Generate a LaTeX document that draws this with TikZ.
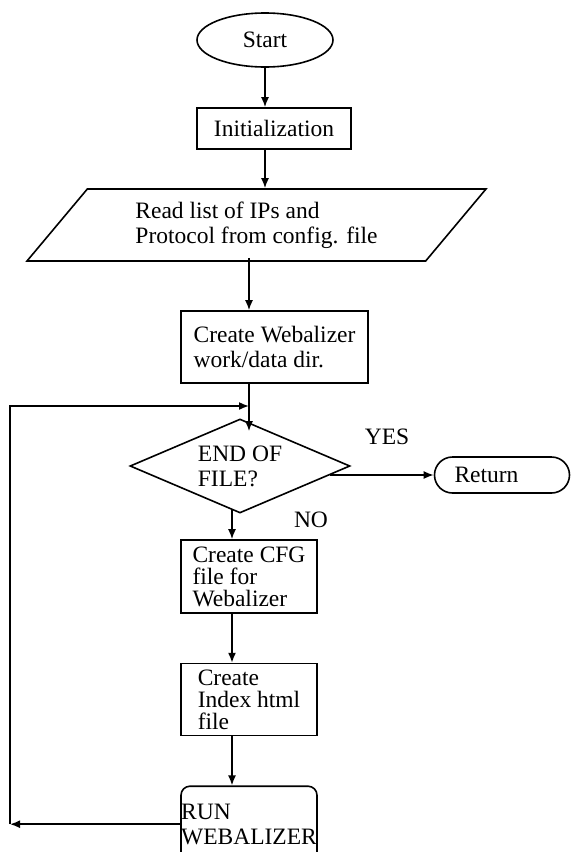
\documentclass[tikz,border=0pt]{standalone}
\usepackage{fontspec}
\setmainfont{Liberation Serif}
\usetikzlibrary{arrows.meta,positioning,calc,shapes.geometric}

\begin{document}
\begin{tikzpicture}[
  x=1pt, y=-1pt,
  >={Latex[length=10pt,width=8pt]},
  line width=1.6pt,
  node distance=49pt,
  every node/.style={font=\fontsize{23.5}{25}\selectfont},
  fbox/.style={draw,rectangle,align=left,inner sep=0pt,minimum width=136pt},
  fterm/.style={draw,ellipse,inner sep=0pt,minimum width=136pt,minimum height=54pt},
  fio/.style={draw,trapezium,trapezium left angle=37.7,trapezium right angle=142.3,trapezium stretches body,align=left,inner sep=0pt,minimum width=459pt,minimum height=72pt},
  fdec/.style={draw,diamond,aspect=2.34,align=left,inner sep=0pt,minimum width=220pt,minimum height=94pt},
  tight/.style={font=\fontsize{23.5}{22}\selectfont}
]
\useasboundingbox (0,0) rectangle (571,852);
\coordinate (colA) at (249,0);
\coordinate (colB) at (232,0);
\coordinate (lft) at (10,0);
\coordinate (ent) at (0,406);

\node[fterm] (st) at (265,40) {Start};
\node[fbox,minimum width=154pt,minimum height=41pt] (init) at (274,128.5) {Initialization};
\node[fio] (rd) at (256.5,225) {Read list of IPs and\\Protocol from config. file};
\node[fbox,minimum width=187pt,minimum height=72pt] (mk) at (274.5,347) {Create Webalizer\\work/data dir.};
\node[fdec] (dec) at (240,466) {END OF\\FILE?};
\node[fbox,text width=95pt,minimum width=135pt,minimum height=36pt,rounded corners=18pt] (ret) at (502,475) {Return};
\node (yes) at (387,437) {YES};
\node (no) at (311,520) {NO};
\node[fbox,tight,minimum height=73pt] (cfg) at (249,576.5) {Create CFG\\file for\\Webalizer};
\node[fbox,tight,minimum height=72pt,below=of cfg] (idx) {Create\\Index html\\file};
\node[fbox,rounded corners=9pt,minimum height=76pt,below=of idx] (run) {RUN\\WEBALIZER};

\draw[->] (st.south) -- (st.south |- init.north);
\draw[->] (st.south |- init.south) -- (st.south |- rd.north);
\draw[->] ($(colA |- rd.south)+(0,-4)$) -- (colA |- mk.north);
\draw[->] (colA |- mk.south) -- ($(colA |- dec.north)+(0,13)$);
\draw[->] ($(dec.east |- ret.west)+(-21,0)$) -- (ret.west);
\draw[->] ($(colB |- dec.south)+(0,-4)$) -- (colB |- cfg.north);
\draw[->] (colB |- cfg.south) -- (colB |- idx.north);
\draw[->] (colB |- idx.south) -- (colB |- run.north);
\draw[->] (run.west) -- (run.west -| lft);
\draw[->] (run.west -| lft) |- (colA |- ent);
\end{tikzpicture}
\end{document}
